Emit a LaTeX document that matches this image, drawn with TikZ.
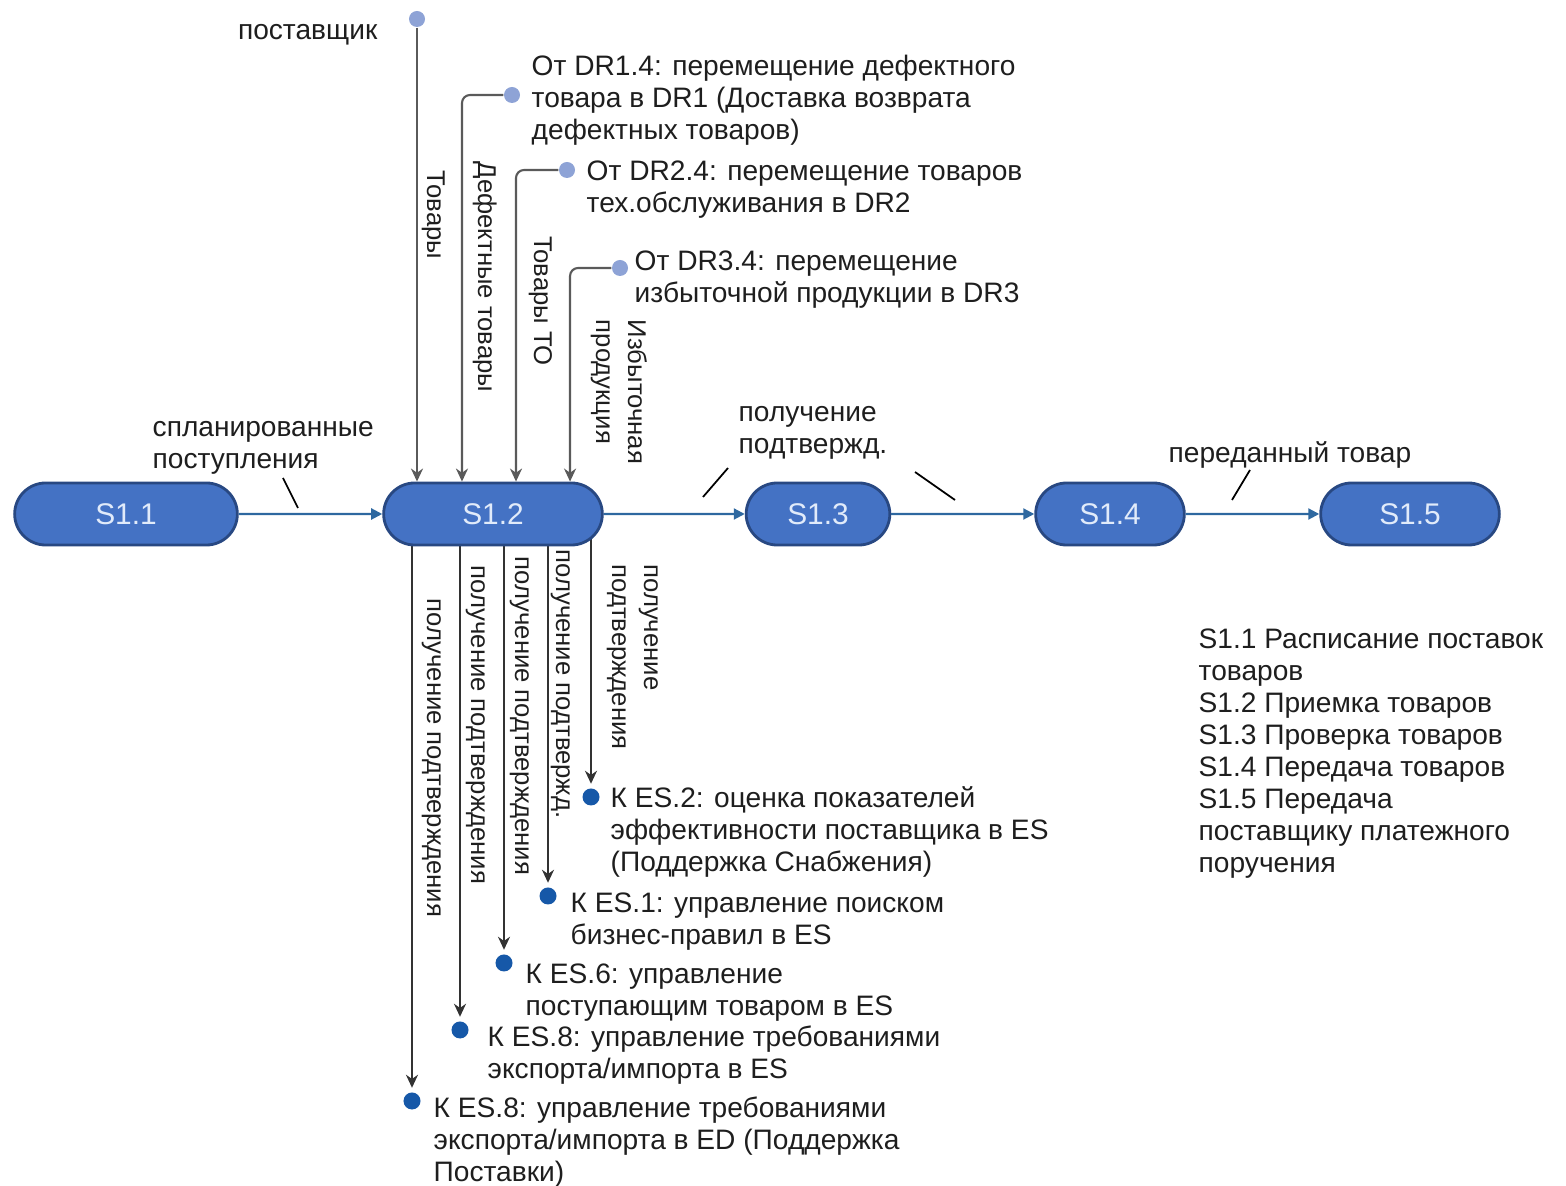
\documentclass[tikz,border=0pt]{standalone}
\usepackage{fontspec}
\setmainfont{Liberation Sans}
\usetikzlibrary{arrows.meta, positioning, shapes.misc, backgrounds}

\definecolor{procfill}{RGB}{68,114,196}
\definecolor{procline}{RGB}{40,72,130}
\definecolor{proctext}{RGB}{225,235,250}
\definecolor{flowc}{RGB}{46,104,160}
\definecolor{indotc}{RGB}{142,163,214}
\definecolor{outdotc}{RGB}{22,88,168}
\definecolor{inc}{RGB}{90,90,90}
\definecolor{outc}{RGB}{50,50,50}
\definecolor{txt}{RGB}{30,30,30}

\begin{document}
\begin{tikzpicture}[
    x=0.01cm, y=-0.01cm,
    proc/.style = {
        rounded rectangle,
        draw=procline,
        fill=procfill,
        text=proctext,
        line width=0.8pt,
        minimum height=0.62cm,
        font=\fontsize{8.5}{10}\selectfont
    },
    lbl/.style = {align=left, inner sep=0, text=txt, font=\fontsize{8}{9.1}\selectfont},
    vlbl/.style = {lbl, rotate=-90, anchor=south, font=\fontsize{7.3}{9.1}\selectfont},
    indot/.style = {circle, fill=indotc, minimum size=0.16cm, inner sep=0},
    outdot/.style = {circle, fill=outdotc, minimum size=0.17cm, inner sep=0},
    flow/.style = {draw=flowc, line width=0.6pt, -{Triangle[length=0.11cm,width=0.11cm]}},
    vin/.style = {draw=inc, line width=0.6pt, rounded corners=0.08cm, -{Stealth[length=0.13cm,width=0.12cm]}},
    vout/.style = {draw=outc, line width=0.6pt, shorten >=0.04cm, -{Stealth[length=0.13cm,width=0.12cm]}},
    tick/.style = {draw=black, line width=0.5pt}
]
\useasboundingbox (0,0) rectangle (1566,1186);

% Process steps
\node[proc, minimum width=2.46cm] (s11) at (126,514) {S1.1};
\node[proc, minimum width=2.42cm] (s12) at (493,514) {S1.2};
\node[proc, minimum width=1.67cm] (s13) at (818,514) {S1.3};
\node[proc, minimum width=1.72cm] (s14) at (1110,514) {S1.4};
\node[proc, minimum width=2.02cm] (s15) at (1410,514) {S1.5};

% Main flow
\draw[flow] (s11) -- (s12);
\draw[flow] (s12) -- (s13);
\draw[flow] (s13) -- (s14);
\draw[flow] (s14) -- (s15);

\node[lbl, anchor=north west] (plan) at (152,421) {спланированные\\поступления};
\node[lbl, anchor=north west] (conf) at (738,406) {получение\\подтвержд.};
\node[lbl, anchor=north west] (pass) at (1168,441) {переданный товар};
\draw[tick] (283,478) -- (298,508);
\draw[tick] (728,468) -- (703,497);
\draw[tick] (915,472) -- (955,500);
\draw[tick] (1250,470) -- (1232,500);

% Inputs to S1.2
\node[indot] (sup) at (417,19) {};
\node[indot] (dr1) at (512,95) {};
\node[indot] (dr2) at (567,170) {};
\node[indot] (dr3) at (620,268) {};

\node[lbl, anchor=base east] (suptxt) at (378,40) {поставщик};
\node[lbl, anchor=north west] (dr1txt) at (531,54) {От DR1.4: перемещение дефектного\\товара в DR1 (Доставка возврата\\дефектных товаров)};
\node[lbl, anchor=north west] (dr2txt) at (586,160) {От DR2.4: перемещение товаров\\тех.обслуживания в DR2};
\node[lbl, anchor=north west] (dr3txt) at (634,250) {От DR3.4: перемещение\\избыточной продукции в DR3};

\draw[vin] (sup) -- (sup |- s12.north);
\draw[vin] (dr1.west) -| ([xshift=-0.31cm]s12.north);
\draw[vin] (dr2.west) -| ([xshift=0.23cm]s12.north);
\draw[vin] (dr3.west) -| ([xshift=0.77cm]s12.north);

\node[vlbl] (goods) at (421,215) {Товары};
\node[vlbl] (defect) at (472,277) {Дефектные товары};
\node[vlbl] (maint) at (528,301) {Товары ТО};
\node[vlbl] (surplus) at (590,392) {Избыточная\\продукция};

% Outputs from S1.2
\node[outdot] (es2) at (591,797) {};
\node[outdot] (es1) at (548,896) {};
\node[outdot] (es6) at (504,963) {};
\node[outdot] (es8) at (460,1030) {};
\node[outdot] (ed8) at (412,1101) {};

\node[lbl, anchor=north west] (es2txt) at (610,786) {К ES.2: оценка показателей\\эффективности поставщика в ES\\(Поддержка Снабжения)};
\node[lbl, anchor=north west] (es1txt) at (570,892) {К ES.1: управление поиском\\бизнес-правил в ES};
\node[lbl, anchor=north west] (es6txt) at (525,963) {К ES.6: управление\\поступающим товаром в ES};
\node[lbl, anchor=north west] (es8txt) at (487,1025) {К ES.8: управление требованиями\\экспорта/импорта в ES};
\node[lbl, anchor=north west] (ed8txt) at (433,1096) {К ES.8: управление требованиями\\экспорта/импорта в ED (Поддержка\\Поставки)};

\begin{scope}[on background layer]
\draw[vout] (s12.center -| ed8) -- (ed8.north);
\draw[vout] (s12.center -| es8) -- (es8.north);
\draw[vout] (s12.center -| es6) -- (es6.north);
\draw[vout] (s12.center -| es1) -- (es1.north);
\draw[vout] (s12.center -| es2) -- (es2.north);
\end{scope}

\node[vlbl] (c1) at (421,758) {получение подтверждения};
\node[vlbl] (c2) at (465,725) {получение подтверждения};
\node[vlbl] (c3) at (509,716) {получение подтверждения};
\node[vlbl] (c4) at (550,684) {получение подтвержд.};
\node[vlbl] (c5) at (606,657) {получение\\подтверждения};

% Legend
\node[lbl, anchor=north west] (legend) at (1198,628) {S1.1 Расписание поставок\\товаров\\S1.2 Приемка товаров\\S1.3 Проверка товаров\\S1.4 Передача товаров\\S1.5 Передача\\поставщику платежного\\поручения};

\end{tikzpicture}
\end{document}
